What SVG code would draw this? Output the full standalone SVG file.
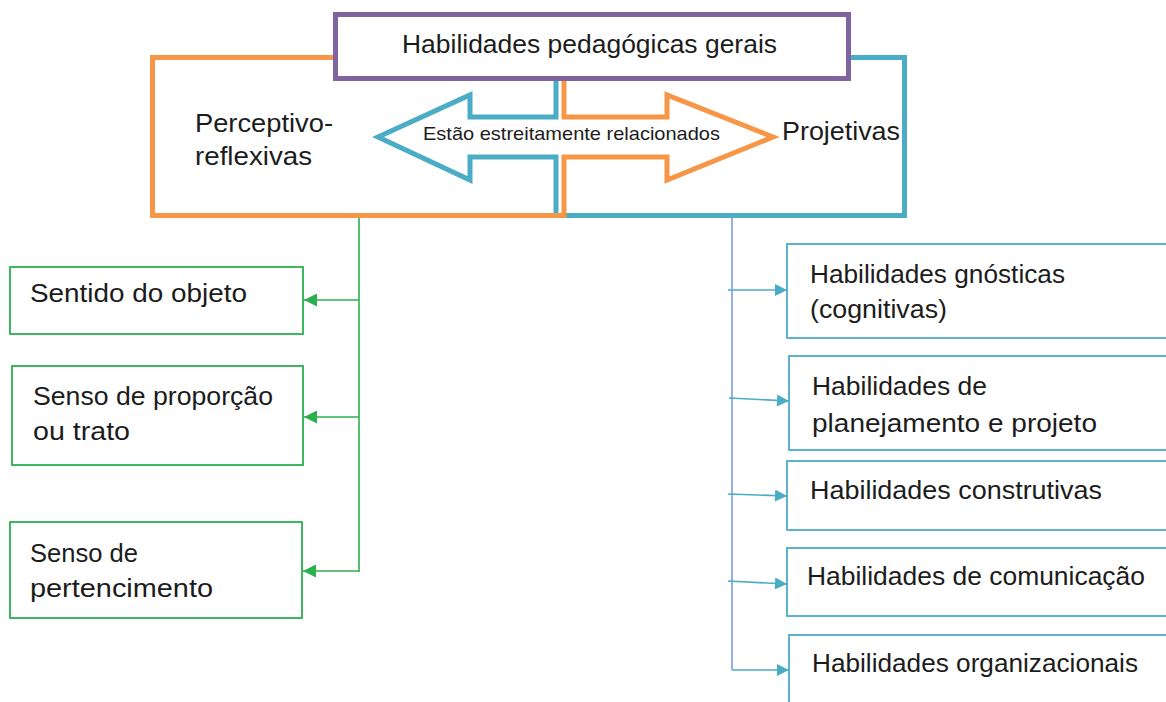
<svg xmlns="http://www.w3.org/2000/svg" width="1166" height="702" viewBox="0 0 1166 702">
<style>
text{font-family:"Liberation Sans",Arial,sans-serif;fill:#1c1c1c;font-size:25px}
.small{font-size:19px}
.gbox{fill:#fff;stroke:#2BB04E;stroke-width:1.8}
.bbox{fill:#fff;stroke:#4BACC6;stroke-width:1.8}
.gline{fill:none;stroke:#2BB04E;stroke-width:1.6}
.bline{fill:none;stroke:#4BACC6;stroke-width:1.6}
.vline{fill:none;stroke:#7A9ED6;stroke-width:1.6}
</style>
<defs>
<marker id="ag" viewBox="0 0 10 10" refX="10" refY="5" markerUnits="userSpaceOnUse" markerWidth="15" markerHeight="13" orient="auto"><path d="M0,0 L10,5 L0,10 z" fill="#2BB04E"/></marker>
<marker id="ab" viewBox="0 0 10 10" refX="10" refY="5" markerUnits="userSpaceOnUse" markerWidth="15" markerHeight="12" orient="auto"><path d="M0,0 L10,5 L0,10 z" fill="#4BACC6"/></marker>
</defs>
<rect width="1166" height="702" fill="#fff"/>
<g id="connectors">
<path class="gline" d="M359 218 V572"/>
<path class="gline" d="M359 300 H304" marker-end="url(#ag)"/>
<path class="gline" d="M359 417 H304" marker-end="url(#ag)"/>
<path class="gline" d="M359 571 H303" marker-end="url(#ag)"/>
<path class="vline" d="M732 218 V670"/>
<path class="bline" d="M728 290 H787" marker-end="url(#ab)"/>
<path class="bline" d="M729 398 L789 401" marker-end="url(#ab)"/>
<path class="bline" d="M728 494 L787 496" marker-end="url(#ab)"/>
<path class="bline" d="M728 581 L787 584" marker-end="url(#ab)"/>
<path class="bline" d="M732 670 H789" marker-end="url(#ab)"/>
</g>
<g id="projetivas">
<path d="M851 57.5 L904.5 57.5 L904.5 215.5 L556 215.5 L556 157 L470 157 L470 180 L378 137 L470 95 L470 117 L556 117 L556 81" fill="none" stroke="#4BACC6" stroke-width="5"/>
<text x="782" y="140" textLength="118" lengthAdjust="spacingAndGlyphs">Projetivas</text>
</g>
<g id="perceptivo">
<path d="M335 57.5 L152.5 57.5 L152.5 215.5 L564 215.5 L564 157 L667 157 L667 180 L773 137 L667 95 L667 117 L564 117 L564 81" fill="none" stroke="#F79646" stroke-width="5"/>
<text x="195" y="132" textLength="138" lengthAdjust="spacingAndGlyphs">Perceptivo-</text>
<text x="195" y="165" textLength="117" lengthAdjust="spacingAndGlyphs">reflexivas</text>
</g>
<g id="relacao">
<text class="small" x="423" y="140" textLength="297" lengthAdjust="spacingAndGlyphs">Estão estreitamente relacionados</text>
</g>
<g id="titulo">
<rect x="335.5" y="14.5" width="513" height="64" fill="#fff" stroke="#8064A2" stroke-width="5"/>
<text x="402" y="53" textLength="375" lengthAdjust="spacingAndGlyphs">Habilidades pedagógicas gerais</text>
</g>
<g id="sentido">
<rect class="gbox" x="10" y="267" width="293" height="67"/>
<text x="30" y="302" textLength="217" lengthAdjust="spacingAndGlyphs">Sentido do objeto</text>
</g>
<g id="proporcao">
<rect class="gbox" x="12" y="366" width="291" height="99"/>
<text x="33" y="405" textLength="240" lengthAdjust="spacingAndGlyphs">Senso de proporção</text>
<text x="33" y="440" textLength="97" lengthAdjust="spacingAndGlyphs">ou trato</text>
</g>
<g id="pertencimento">
<rect class="gbox" x="10" y="522" width="292" height="96"/>
<text x="30" y="562" textLength="108" lengthAdjust="spacingAndGlyphs">Senso de</text>
<text x="30" y="597" textLength="183" lengthAdjust="spacingAndGlyphs">pertencimento</text>
</g>
<g id="gnosticas">
<rect class="bbox" x="787" y="244" width="400" height="94"/>
<text x="810" y="283" textLength="255" lengthAdjust="spacingAndGlyphs">Habilidades gnósticas</text>
<text x="810" y="318" textLength="137" lengthAdjust="spacingAndGlyphs">(cognitivas)</text>
</g>
<g id="planejamento">
<rect class="bbox" x="789" y="356" width="400" height="94"/>
<text x="812" y="395" textLength="175" lengthAdjust="spacingAndGlyphs">Habilidades de</text>
<text x="812" y="432" textLength="285" lengthAdjust="spacingAndGlyphs">planejamento e projeto</text>
</g>
<g id="construtivas">
<rect class="bbox" x="787" y="461" width="400" height="69"/>
<text x="810" y="499" textLength="292" lengthAdjust="spacingAndGlyphs">Habilidades construtivas</text>
</g>
<g id="comunicacao">
<rect class="bbox" x="787" y="548" width="400" height="68"/>
<text x="807" y="585" textLength="338" lengthAdjust="spacingAndGlyphs">Habilidades de comunicação</text>
</g>
<g id="organizacionais">
<rect class="bbox" x="789" y="635" width="400" height="90"/>
<text x="812" y="672" textLength="326" lengthAdjust="spacingAndGlyphs">Habilidades organizacionais</text>
</g>
</svg>
